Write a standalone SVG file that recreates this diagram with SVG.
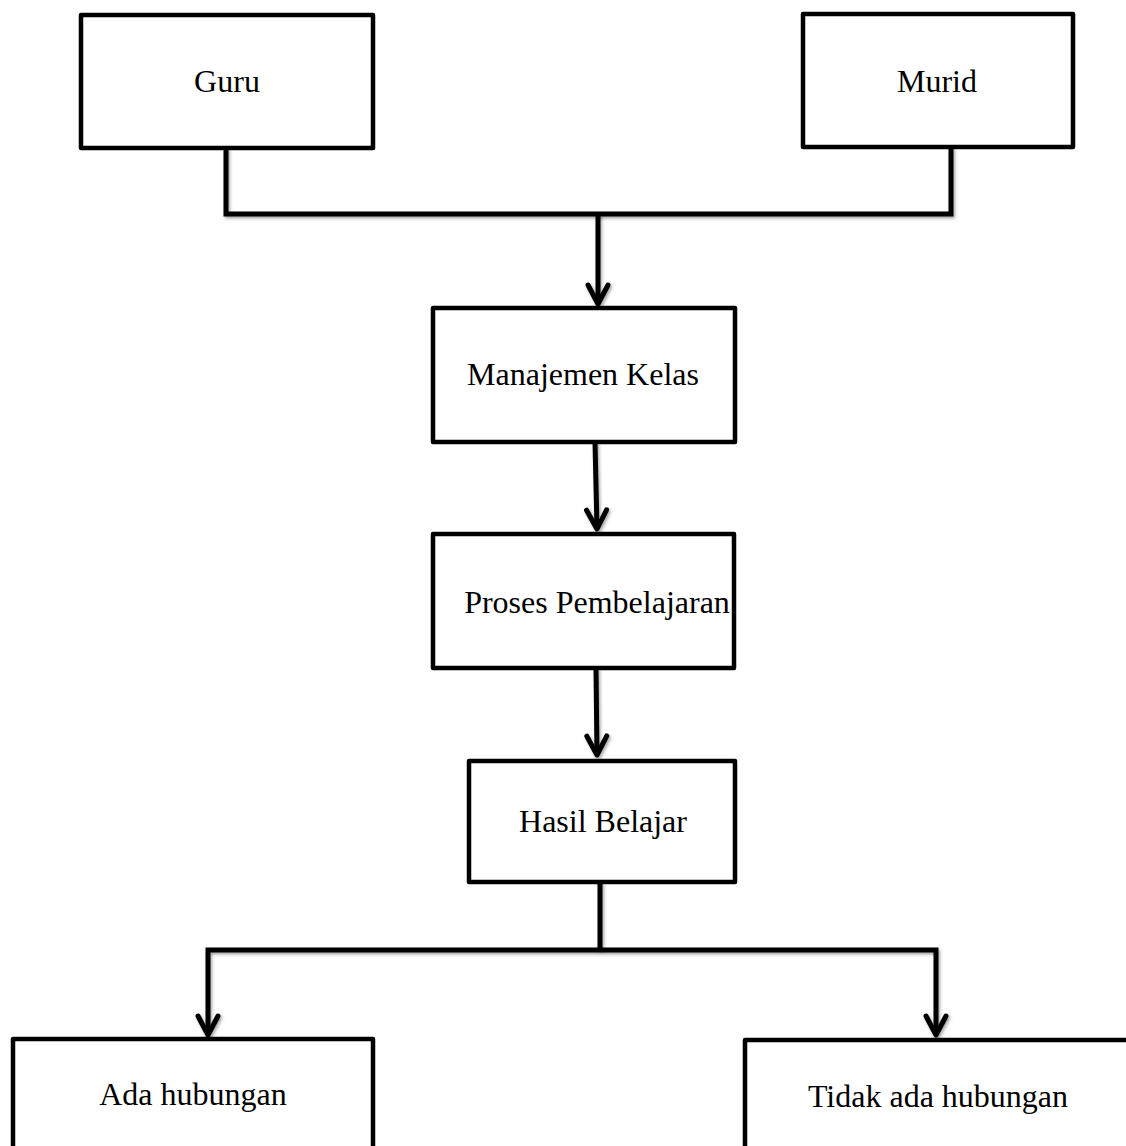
<svg xmlns="http://www.w3.org/2000/svg" width="1126" height="1146" viewBox="0 0 1126 1146">
<style>
.box{fill:#fff;stroke:#000;stroke-width:4.5;stroke-linejoin:round}
.lbl{font-family:"Liberation Serif","Times New Roman",serif;font-size:32px;fill:#000;text-anchor:middle}
.con{fill:none;stroke:#000;stroke-width:5;stroke-linejoin:miter;filter:url(#sh)}
</style>
<defs>
<filter id="sh" filterUnits="userSpaceOnUse" x="0" y="0" width="1126" height="1146">
<feDropShadow dx="1.5" dy="2" stdDeviation="1.5" flood-color="#000" flood-opacity="0.35"/>
</filter>
<marker id="arr" markerUnits="userSpaceOnUse" viewBox="-24 -14 28 28" markerWidth="28" markerHeight="28" refX="0" refY="0" orient="auto" overflow="visible">
<path d="M-19,-10 L0,0 L-19,10" fill="none" stroke="#000" stroke-width="5" stroke-linecap="round" stroke-linejoin="round"/>
</marker>
</defs>
<g id="connectors">
<path class="con" d="M226,148 V214 H951 V147"/>
<path class="con" d="M598,214 V304" marker-end="url(#arr)"/>
<path class="con" d="M595,442 L597,529" marker-end="url(#arr)"/>
<path class="con" d="M596,668 L597,755" marker-end="url(#arr)"/>
<path class="con" d="M600,882 V950"/>
<path class="con" d="M600,950 H208 V1035" marker-end="url(#arr)"/>
<path class="con" d="M600,950 H936 V1035" marker-end="url(#arr)"/>
</g>
<g id="node-guru"><rect class="box" x="81" y="15" width="292" height="133"/><text class="lbl" x="227" y="92">Guru</text></g>
<g id="node-murid"><rect class="box" x="803" y="14" width="270" height="133"/><text class="lbl" x="937" y="92">Murid</text></g>
<g id="node-manajemen"><rect class="box" x="433" y="308" width="302" height="134"/><text class="lbl" x="583" y="385">Manajemen Kelas</text></g>
<g id="node-proses"><rect class="box" x="433" y="534" width="301" height="134"/><text class="lbl" x="597" y="613">Proses Pembelajaran</text></g>
<g id="node-hasil"><rect class="box" x="469" y="761" width="266" height="121"/><text class="lbl" x="603" y="832">Hasil Belajar</text></g>
<g id="node-ada"><rect class="box" x="13" y="1039" width="360" height="140"/><text class="lbl" x="193" y="1105">Ada hubungan</text></g>
<g id="node-tidak"><rect class="box" x="745" y="1040" width="420" height="140"/><text class="lbl" x="938" y="1107">Tidak ada hubungan</text></g>
</svg>
